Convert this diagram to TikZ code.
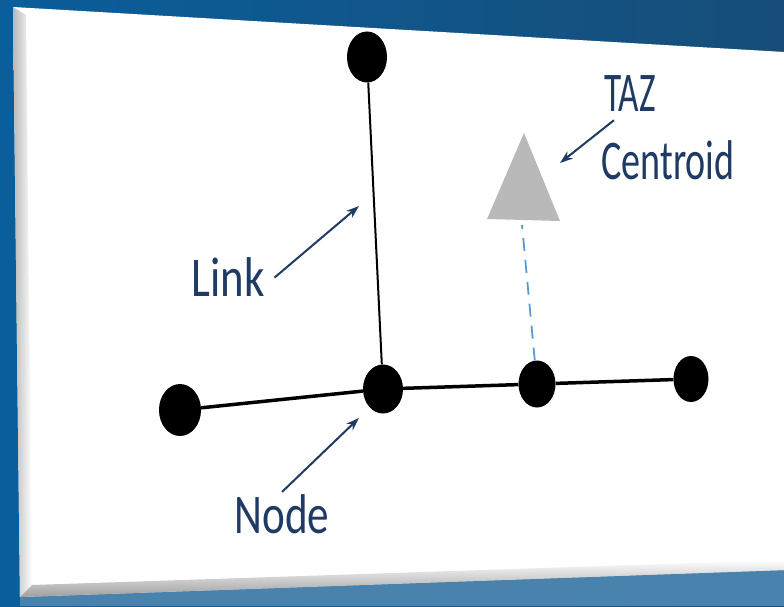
\documentclass[tikz,border=0pt]{standalone}
\usepackage{fontspec}
\setmainfont{Carlito}
\usetikzlibrary{shapes.geometric,arrows.meta,positioning}
\definecolor{navy}{HTML}{1F3A63}
\definecolor{bgleft}{HTML}{0A5E9C}
\definecolor{bgright}{HTML}{174D78}
\definecolor{bglow}{HTML}{4A82AE}
\definecolor{zonegray}{HTML}{B9B9B9}
\definecolor{dashblue}{HTML}{5B9BD5}

\begin{document}
\begin{tikzpicture}[x=1pt,y=1pt,
    dot/.style={ellipse,fill=black,inner sep=0pt,minimum width=40pt,minimum height=50pt},
    lbl/.style={text=navy,inner sep=2pt,font=\fontsize{56}{60}\selectfont},
    pointer/.style={->,draw=navy,line width=2pt},
    >={Stealth[length=13pt,width=9pt]}]
    \useasboundingbox (0,0) rectangle (784,606);
    % background and board
    \shade[left color=bgleft,right color=bgright] (0,0) rectangle (784,606);
    \fill[bglow] (20,0) -- (20,9) -- (784,36) -- (784,0) -- cycle;
    \fill[white] (13,599) -- (784,554) -- (784,36) -- (20,9) -- cycle;
    \shade[left color=gray!55,right color=white] (13,599) -- (26,591) -- (32,21) -- (20,9) -- cycle;
    \shade[bottom color=gray!75,top color=white] (20,9) -- (784,36) -- (784,46) -- (32,21) -- cycle;
    % network nodes
    \node[dot,minimum height=51pt] (top) at (367,549) {};
    \node[dot,minimum height=49pt] (hub) at (383,217) {};
    \node[dot,minimum width=42pt,minimum height=52pt] (west) at (180,196) {};
    \node[dot,minimum width=37pt,minimum height=47pt] (mid) at (537,222) {};
    \node[dot,minimum width=35pt,minimum height=46pt] (east) at (691,227) {};
    % links
    \draw[line width=2pt] (top) -- (hub);
    \draw[line width=3.5pt] (west) -- (hub) -- (mid) -- (east);
    % zone centroid and connector
    \fill[zonegray] (524,473) -- (487,387) -- (560,385) -- cycle;
    \coordinate (zone) at (522,381);
    \draw[dashblue,line width=1.8pt,dash pattern=on 13pt off 9pt] (mid) -- (zone);
    % labels
    \node[lbl,xscale=0.8,anchor=base west] (link) at (190,309) {Link};
    \node[lbl,xscale=0.77,anchor=base west] (node) at (233,73) {Node};
    \node[lbl,xscale=0.63,anchor=base west] (taz) at (603,494) {TAZ};
    \node[lbl,xscale=0.68,anchor=base west] (centroid) at (600,426) {Centroid};
    \coordinate (linktip) at (359,400);
    \coordinate (nodetip) at (359,188);
    \coordinate (taztip) at (560,443);
    \draw[pointer] ([xshift=8pt]link.east) -- (linktip);
    \draw[pointer] (node.north) -- (nodetip);
    \draw[pointer] ([xshift=11pt,yshift=-6pt]taz.south west) -- (taztip);
\end{tikzpicture}
\end{document}
